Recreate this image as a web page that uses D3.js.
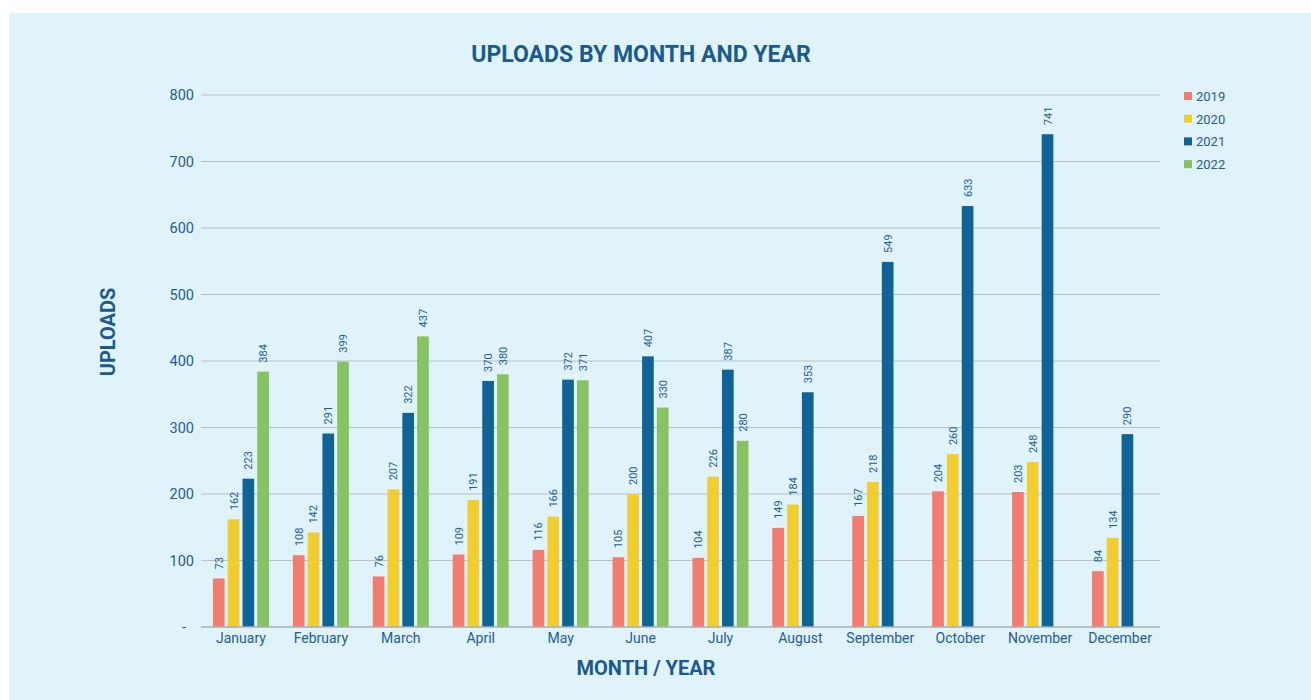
<!DOCTYPE html>
<html><head><meta charset="utf-8">
<script src="https://cdn.jsdelivr.net/npm/d3@7"></script>
<style>
html,body{margin:0;padding:0;background:#fff;}
svg{display:block;font-family:Roboto,"Noto Sans",sans-serif;}
</style></head>
<body>
<svg id="chart" width="1311" height="700"></svg>
<script>
const months = ["January","February","March","April","May","June","July","August","September","October","November","December"];
const years = ["2019","2020","2021","2022"];
const v2019 = [73,108,76,109,116,105,104,149,167,204,203,84];
const v2020 = [162,142,207,191,166,200,226,184,218,260,248,134];
const v2021 = [223,291,322,370,372,407,387,353,549,633,741,290];
const v2022 = [384,399,437,380,371,330,280,null,null,null,null,null];
const yTicks = [0,100,200,300,400,500,600,700,800];
const colors = ["#F47C6F","#F2CD2E","#0E6496","#86C461"];
const seriesValues = [v2019,v2020,v2021,v2022];

(function(){
const svg = d3.select("#chart");
svg.append("rect").attr("x",9).attr("y",13).attr("width",1302).attr("height",687).attr("fill","#E0F2FA");

const pL=201, pR=1160, pT=95, pB=627;
const x0 = d3.scaleBand().domain(months).range([pL,pR]).paddingInner(0).paddingOuter(0);
const groupW = 56;
const x1 = d3.scaleBand().domain(years).range([0,groupW]).paddingInner(0.21);
const y = d3.scaleLinear().domain([0,800]).range([pB,pT]);
const textColor = "#1E5E93";

svg.append("g").selectAll("line").data(yTicks.filter(t=>t>0)).join("line")
  .attr("x1",pL).attr("x2",pR).attr("y1",d=>y(d)).attr("y2",d=>y(d))
  .attr("stroke","#B9C0C6").attr("stroke-width",1.2);

const yAxis = d3.axisLeft(y).tickValues(yTicks).tickSize(0).tickPadding(7)
  .tickFormat(d=> d===0 ? "-" : d);
const gy = svg.append("g").attr("transform",`translate(${pL},0)`).call(yAxis);
gy.select(".domain").remove();
gy.selectAll("text").attr("fill",textColor).attr("font-size",14.5).attr("font-family","Roboto");
gy.selectAll("text").filter(d=>d===0).attr("dx",-8);

const data = [];
months.forEach((m,i)=>{
  years.forEach((yr,j)=>{
    const v = seriesValues[j][i];
    if(v!=null) data.push({m,yr,v,c:colors[j]});
  });
});
const off = (x0.bandwidth()-groupW)/2;
const bars = svg.append("g");
bars.selectAll("rect").data(data).join("rect")
  .attr("x",d=>x0(d.m)+off+x1(d.yr))
  .attr("y",d=>y(d.v))
  .attr("width",x1.bandwidth())
  .attr("height",d=>pB-y(d.v))
  .attr("fill",d=>d.c);

bars.selectAll("text").data(data).join("text")
  .attr("transform",d=>`translate(${x0(d.m)+off+x1(d.yr)+x1.bandwidth()/2+4},${y(d.v)-9}) rotate(-90)`)
  .attr("text-anchor","start")
  .attr("font-size",11).attr("fill",textColor)
  .text(d=>d.v);

svg.append("line").attr("x1",pL).attr("x2",pR).attr("y1",pB).attr("y2",pB)
  .attr("stroke","#A9AFB5").attr("stroke-width",1.5);

const xAxis = d3.axisBottom(x0).tickSize(0).tickPadding(6);
const gx = svg.append("g").attr("transform",`translate(0,${pB})`).call(xAxis);
gx.select(".domain").remove();
gx.selectAll("text").attr("fill",textColor).attr("font-size",14).attr("font-family","Roboto");

svg.append("text").attr("x",641).attr("y",62).attr("text-anchor","middle")
  .attr("font-size",23).attr("font-weight","bold").attr("fill","#1A5A8E")
  .text("UPLOADS BY MONTH AND YEAR");
svg.append("text").attr("x",646).attr("y",675).attr("text-anchor","middle")
  .attr("font-size",20).attr("font-weight","bold").attr("fill","#1A5A8E")
  .text("MONTH / YEAR");
svg.append("text").attr("transform","translate(115,332) rotate(-90)").attr("text-anchor","middle")
  .attr("font-size",20).attr("font-weight","bold").attr("fill","#1A5A8E")
  .text("UPLOADS");

const lg = svg.append("g").selectAll("g").data(years).join("g")
  .attr("transform",(d,i)=>`translate(1184,${96+i*22.7})`);
lg.append("rect").attr("x",0).attr("y",-4).attr("width",8).attr("height",8).attr("fill",(d,i)=>colors[i]);
lg.append("text").attr("x",12).attr("y",5).attr("font-size",13).attr("fill",textColor).text(d=>d);
})();
</script>
</body></html>
